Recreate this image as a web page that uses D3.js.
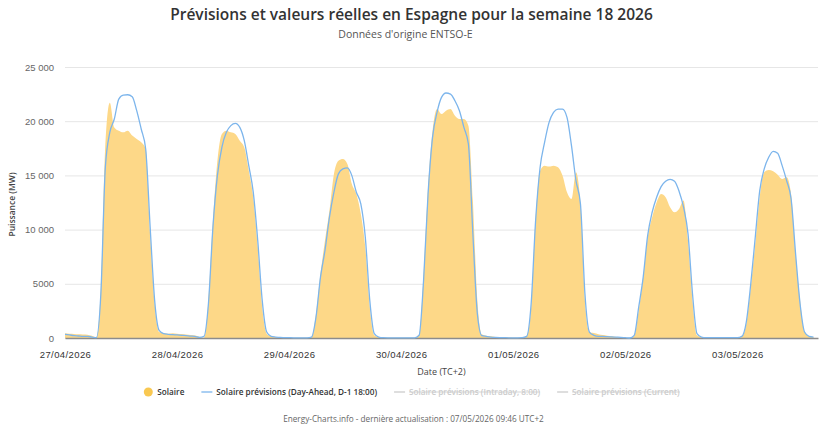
<!DOCTYPE html>
<html>
<head>
<meta charset="utf-8">
<script src="https://cdn.jsdelivr.net/npm/d3@7"></script>
<style>
  body { margin: 0; background: #fff; }
  svg { display: block; font-family: "Open Sans", sans-serif; }
</style>
</head>
<body>
<svg id="chart" width="823" height="429"></svg>
<script>
// DATA (hourly values, MW, from 27/04/2026 00:00)
const dayLabels = ["27/04/2026", "28/04/2026", "29/04/2026", "30/04/2026", "01/05/2026", "02/05/2026", "03/05/2026"];
const yTickValues = [0, 5000, 10000, 15000, 20000, 25000];
const yTickLabels = ["0", "5000", "10 000", "15 000", "20 000", "25 000"];

const solaire = [
    430, 400, 380, 350, 330, 300, 200, 60, 4700, 17900, 21700, 19430, 19130, 18970, 19130, 18670, 18360, 18050, 17440, 9600, 3160, 550, 460, 400,
    440, 400, 370, 330, 280, 230, 120, 30, 3470, 10840, 16360, 18820, 19130, 18970, 18820, 18200, 17590, 15440, 12990, 8380, 2860, 400, 150, 90,
    60, 50, 40, 30, 20, 20, 20, 90, 2240, 5920, 9000, 11760, 15140, 16360, 16520, 16060, 14210, 13290, 11450, 8380, 2860, 250, 90, 30,
    20, 20, 20, 20, 20, 20, 20, 250, 5920, 13900, 19130, 21120, 20660, 20970, 21120, 20510, 20200, 20200, 19590, 12680, 3470, 340, 215, 150,
    100, 80, 60, 40, 30, 30, 30, 215, 2860, 11140, 15440, 15900, 15810, 15900, 15750, 14980, 13450, 12830, 15290, 12370, 3470, 550, 450, 350,
    280, 215, 150, 90, 30, 0, 0, 215, 2550, 5620, 9300, 11140, 12530, 13290, 12990, 12070, 11600, 11910, 12680, 9000, 3470, 250, 90, 30,
    20, 20, 20, 20, 20, 20, 20, 150, 1320, 4700, 8690, 12990, 15290, 15500, 15380, 15070, 14670, 14830, 13290, 7770, 3470, 550, 150, 90
];

const previsionDA = [
    340, 280, 215, 185, 150, 150, 90, 30, 4080, 15750, 18970, 20200, 22040, 22410, 22440, 22260, 20970, 19280, 17440, 10220, 3470, 700, 400, 340,
    310, 280, 250, 220, 180, 150, 60, 150, 3160, 10220, 14980, 17590, 18970, 19590, 19800, 19430, 18200, 15900, 13450, 9000, 3470, 550, 150, 90,
    50, 40, 30, 20, 20, 20, 20, 90, 1930, 5620, 8070, 11140, 13450, 15140, 15600, 15690, 14980, 13450, 12370, 9300, 3470, 400, 90, 30,
    20, 20, 20, 20, 20, 20, 20, 250, 5310, 13290, 18510, 20810, 22200, 22600, 22500, 21890, 20970, 19430, 17900, 9600, 2240, 215, 150, 90,
    60, 40, 30, 20, 20, 20, 30, 150, 3160, 10840, 15750, 18050, 19890, 20810, 21120, 21120, 20350, 17740, 14520, 12370, 4080, 550, 250, 150,
    150, 120, 100, 80, 60, 30, 0, 250, 2860, 5620, 9460, 11600, 12990, 13970, 14460, 14640, 14460, 13540, 12070, 9600, 4080, 400, 90, 30,
    30, 30, 30, 30, 30, 30, 30, 150, 1470, 5000, 9300, 13600, 15600, 16670, 17220, 17040, 15900, 14520, 12830, 7770, 3160, 550, 150, 90
];

const legendNames = ["Solaire", "Solaire prévisions (Day-Ahead, D-1 18:00)", "Solaire prévisions (Intraday, 8:00)", "Solaire prévisions (Current)"];
const legendVisible = [true, true, false, false];

const W = 823, H = 429;
const plot = { left: 65, right: 818, top: 67, bottom: 338 };

const svg = d3.select("svg#chart");

const start = new Date(2026, 3, 27);
const times = solaire.map((_, i) => d3.timeHour.offset(start, i));

// SCALES
const xScale = d3.scaleTime()
    .domain([start, d3.timeHour.offset(start, solaire.length)])
    .range([plot.left, plot.right]);

const yScale = d3.scaleLinear()
    .domain([0, 25000])
    .range([plot.bottom, plot.top]);

// GRID + Y AXIS
svg.append("g")
    .attr("transform", `translate(${plot.left},0)`)
    .call(d3.axisLeft(yScale)
        .tickValues(yTickValues)
        .tickFormat((d, i) => yTickLabels[i])
        .tickSize(-(plot.right - plot.left))
        .tickPadding(11))
    .call(g => g.select(".domain").remove())
    .call(g => g.selectAll(".tick line").attr("stroke", "#e6e6e6"))
    .call(g => g.selectAll(".tick text").attr("fill", "#666").attr("font-size", 9.5));

// AREA (actual)
const area = d3.area()
    .x((d, i) => xScale(times[i]))
    .y0(yScale(0))
    .y1(d => yScale(d))
    .curve(d3.curveMonotoneX);

svg.append("path")
    .datum(solaire)
    .attr("fill", "#fdd888")
    .attr("d", area);

// X AXIS
const xTicks = dayLabels.map((_, k) => d3.timeHour.offset(start, 25 * k));
svg.append("g")
    .attr("transform", `translate(0,${plot.bottom})`)
    .call(d3.axisBottom(xScale)
        .tickValues(xTicks)
        .tickFormat((d, i) => dayLabels[i])
        .tickSize(0)
        .tickPadding(13))
    .call(g => g.select(".domain").attr("stroke", "#8c8c8c").attr("stroke-width", 1.5))
    .call(g => g.selectAll(".tick text").attr("fill", "#333").attr("font-size", 9.5).attr("letter-spacing", 0.4));

// LINE (forecast)
const line = d3.line()
    .x((d, i) => xScale(times[i]))
    .y(d => yScale(d))
    .curve(d3.curveMonotoneX);

svg.append("path")
    .datum(previsionDA)
    .attr("fill", "none")
    .attr("stroke", "#7cb5ec")
    .attr("stroke-width", 1.3)
    .attr("d", line);

// TITLES
svg.append("text")
    .attr("x", W / 2).attr("y", 20)
    .attr("text-anchor", "middle")
    .attr("font-size", 15.5)
    .attr("font-weight", 600)
    .attr("fill", "#333")
    .text("Prévisions et valeurs réelles en Espagne pour la semaine 18 2026");

svg.append("text")
    .attr("x", W / 2 - 6).attr("y", 38)
    .attr("text-anchor", "middle")
    .attr("font-size", 10.5)
    .attr("fill", "#555")
    .text("Données d'origine ENTSO-E");

svg.append("text")
    .attr("transform", `translate(15,${(plot.top + plot.bottom) / 2 + 2}) rotate(-90)`)
    .attr("text-anchor", "middle")
    .attr("font-size", 8.5)
    .attr("font-weight", 600)
    .attr("fill", "#444")
    .text("Puissance (MW)");

svg.append("text")
    .attr("x", (plot.left + plot.right) / 2).attr("y", 375)
    .attr("text-anchor", "middle")
    .attr("font-size", 9)
    .attr("fill", "#444")
    .text("Date (TC+2)");

// LEGEND
const legend = svg.append("g").attr("font-size", 8.2).attr("font-weight", 600);
let lx = 0;
const items = legend.selectAll("g")
    .data(legendNames)
    .join("g");

items.each(function (name, i) {
    const g = d3.select(this);
    const col = legendVisible[i] ? (i === 0 ? "#f9c851" : "#7cb5ec") : "#cccccc";
    if (i === 0) {
        g.append("circle").attr("cx", 5).attr("cy", 0).attr("r", 4.5).attr("fill", col);
    } else {
        g.append("line").attr("x1", 0).attr("x2", 11).attr("y1", 0).attr("y2", 0)
            .attr("stroke", col).attr("stroke-width", 1.3);
    }
    const t = g.append("text")
        .attr("x", i === 0 ? 14 : 15).attr("y", 3)
        .attr("fill", legendVisible[i] ? "#333" : "#cccccc")
        .attr("text-decoration", legendVisible[i] ? null : "line-through")
        .text(name);
    const w = (i === 0 ? 14 : 15) + t.node().getComputedTextLength();
    g.attr("transform", `translate(${lx},0)`);
    lx += w + 17;
});
lx -= 17;
legend.attr("transform", `translate(${(W - lx) / 2},392)`);

// CREDITS
svg.append("text")
    .attr("x", W / 2 + 2).attr("y", 422)
    .attr("text-anchor", "middle")
    .attr("font-size", 8.2)
    .attr("fill", "#666")
    .text("Energy-Charts.info - dernière actualisation : 07/05/2026 09:46 UTC+2");
</script>
</body>
</html>
